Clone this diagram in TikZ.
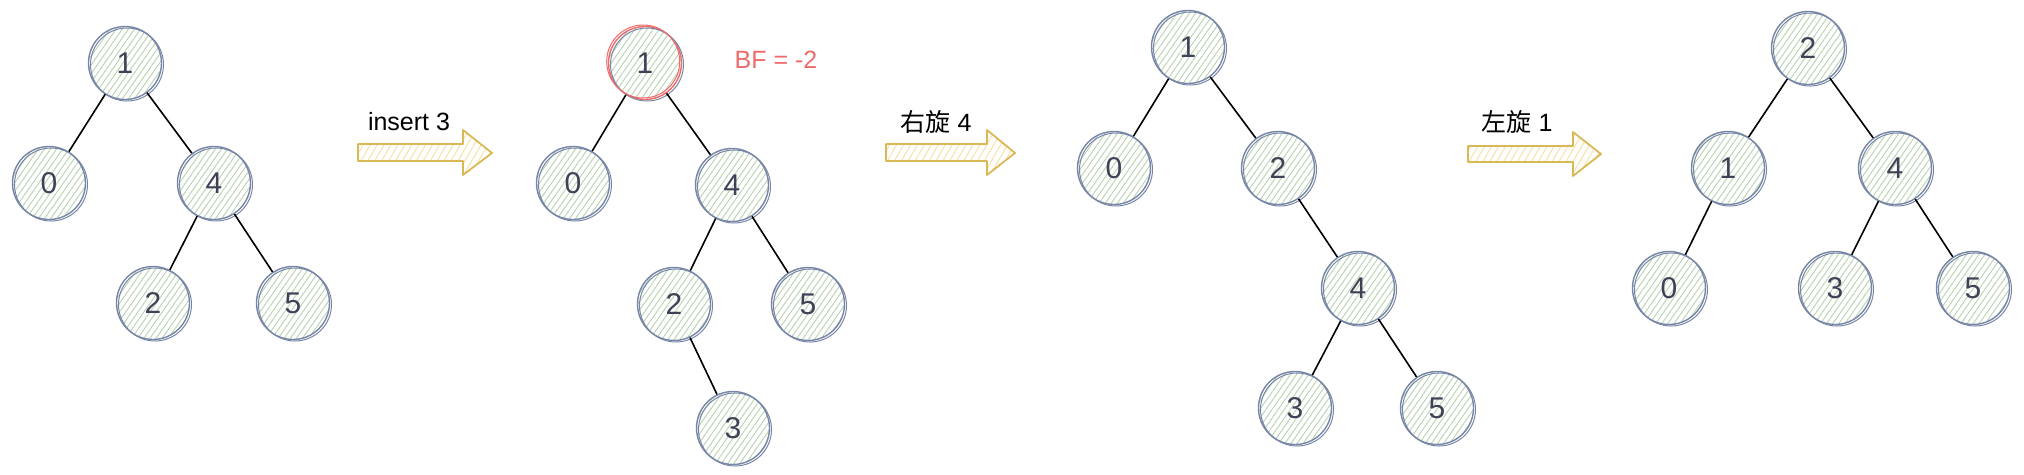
\documentclass[tikz,border=0pt]{standalone}
\usepackage{fontspec}
\setmainfont{Liberation Sans}
\newfontfamily\cjk{Noto Sans CJK SC}
\usetikzlibrary{patterns.meta}
\definecolor{nodestroke}{HTML}{7786A6}
\definecolor{hatch}{HTML}{BDD5B4}
\definecolor{digit}{HTML}{3F4256}
\definecolor{bfred}{HTML}{EE6B6B}
\definecolor{arrstroke}{HTML}{D9B855}
\definecolor{arrhatch}{HTML}{F5E2A8}
\tikzset{
  tnode/.style={circle, minimum size=73pt, inner sep=0pt, draw=nodestroke, line width=1.4pt,
    pattern={Lines[angle=55,distance=5pt,line width=1pt]}, pattern color=hatch,
    text=digit, font=\fontsize{30}{30}\selectfont,
    postaction={draw=nodestroke, line width=1pt, transform canvas={shift={(2pt,-1.5pt)}}}},
  rednode/.style={tnode, draw=bfred, postaction={draw=bfred, line width=1pt, transform canvas={shift={(-1.8pt,1.5pt)}}}},
  edge/.style={draw=black, line width=1.6pt},
  lbl/.style={font=\fontsize{25}{25}\selectfont, text=black},
  bigarrow/.style={draw=arrstroke, line width=1.8pt, line join=round,
    pattern={Lines[angle=60,distance=6pt,line width=1pt]}, pattern color=arrhatch}
}
\begin{document}
\begin{tikzpicture}[x=1pt,y=-1pt]
\useasboundingbox (0,0) rectangle (2024,474);
% ---- tree 1
\node[tnode] (a1) at (125,63) {1};
\node[tnode] (a0) at (49,183) {0};
\node[tnode] (a4) at (214,183) {4};
\node[tnode] (a2) at (153,303) {2};
\node[tnode] (a5) at (293,303) {5};
\draw[edge] (a1) -- (a0);
\draw[edge] (a1) -- (a4);
\draw[edge] (a4) -- (a2);
\draw[edge] (a4) -- (a5);
% arrow 1
\coordinate (r1) at (358,144);
\draw[bigarrow] (r1) -- ++(105,0) -- ++(0,-14) -- ++(29,23) -- ++(-29,22) -- ++(0,-14) -- ++(-105,0) -- cycle;
\node[lbl] (t1) at (409,122) {insert 3};
% ---- tree 2
\node[rednode] (b1) at (645,63) {1};
\node[tnode] (b0) at (573,183) {0};
\node[tnode] (b4) at (732,185) {4};
\node[tnode] (b2) at (674,304) {2};
\node[tnode] (b5) at (808,304) {5};
\node[tnode] (b3) at (733,428) {3};
\draw[edge] (b1) -- (b0);
\draw[edge] (b1) -- (b4);
\draw[edge] (b4) -- (b2);
\draw[edge] (b4) -- (b5);
\draw[edge] (b2) -- (b3);
\node[lbl, text=bfred] (bf) at (776,60) {BF = -2};
% arrow 2
\coordinate (r2) at (886,144);
\draw[bigarrow] (r2) -- ++(101,0) -- ++(0,-14) -- ++(28,23) -- ++(-28,22) -- ++(0,-14) -- ++(-101,0) -- cycle;
\node[lbl] (t2) at (936,122) {{\cjk 右旋} 4};
% ---- tree 3
\node[tnode] (c1) at (1188,47) {1};
\node[tnode] (c0) at (1114,168) {0};
\node[tnode] (c2) at (1278,168) {2};
\node[tnode] (c4) at (1358,288) {4};
\node[tnode] (c3) at (1295,408) {3};
\node[tnode] (c5) at (1437,408) {5};
\draw[edge] (c1) -- (c0);
\draw[edge] (c1) -- (c2);
\draw[edge] (c2) -- (c4);
\draw[edge] (c4) -- (c3);
\draw[edge] (c4) -- (c5);
% arrow 3
\coordinate (r3) at (1468,146);
\draw[bigarrow] (r3) -- ++(105,0) -- ++(0,-14) -- ++(28,22) -- ++(-28,22) -- ++(0,-14) -- ++(-105,0) -- cycle;
\node[lbl] (t3) at (1517,122) {{\cjk 左旋} 1};
% ---- tree 4
\node[tnode] (d2) at (1808,48) {2};
\node[tnode] (d1) at (1728,168) {1};
\node[tnode] (d4) at (1895,168) {4};
\node[tnode] (d0) at (1669,288) {0};
\node[tnode] (d3) at (1835,288) {3};
\node[tnode] (d5) at (1973,288) {5};
\draw[edge] (d2) -- (d1);
\draw[edge] (d2) -- (d4);
\draw[edge] (d1) -- (d0);
\draw[edge] (d4) -- (d3);
\draw[edge] (d4) -- (d5);
\end{tikzpicture}
\end{document}
